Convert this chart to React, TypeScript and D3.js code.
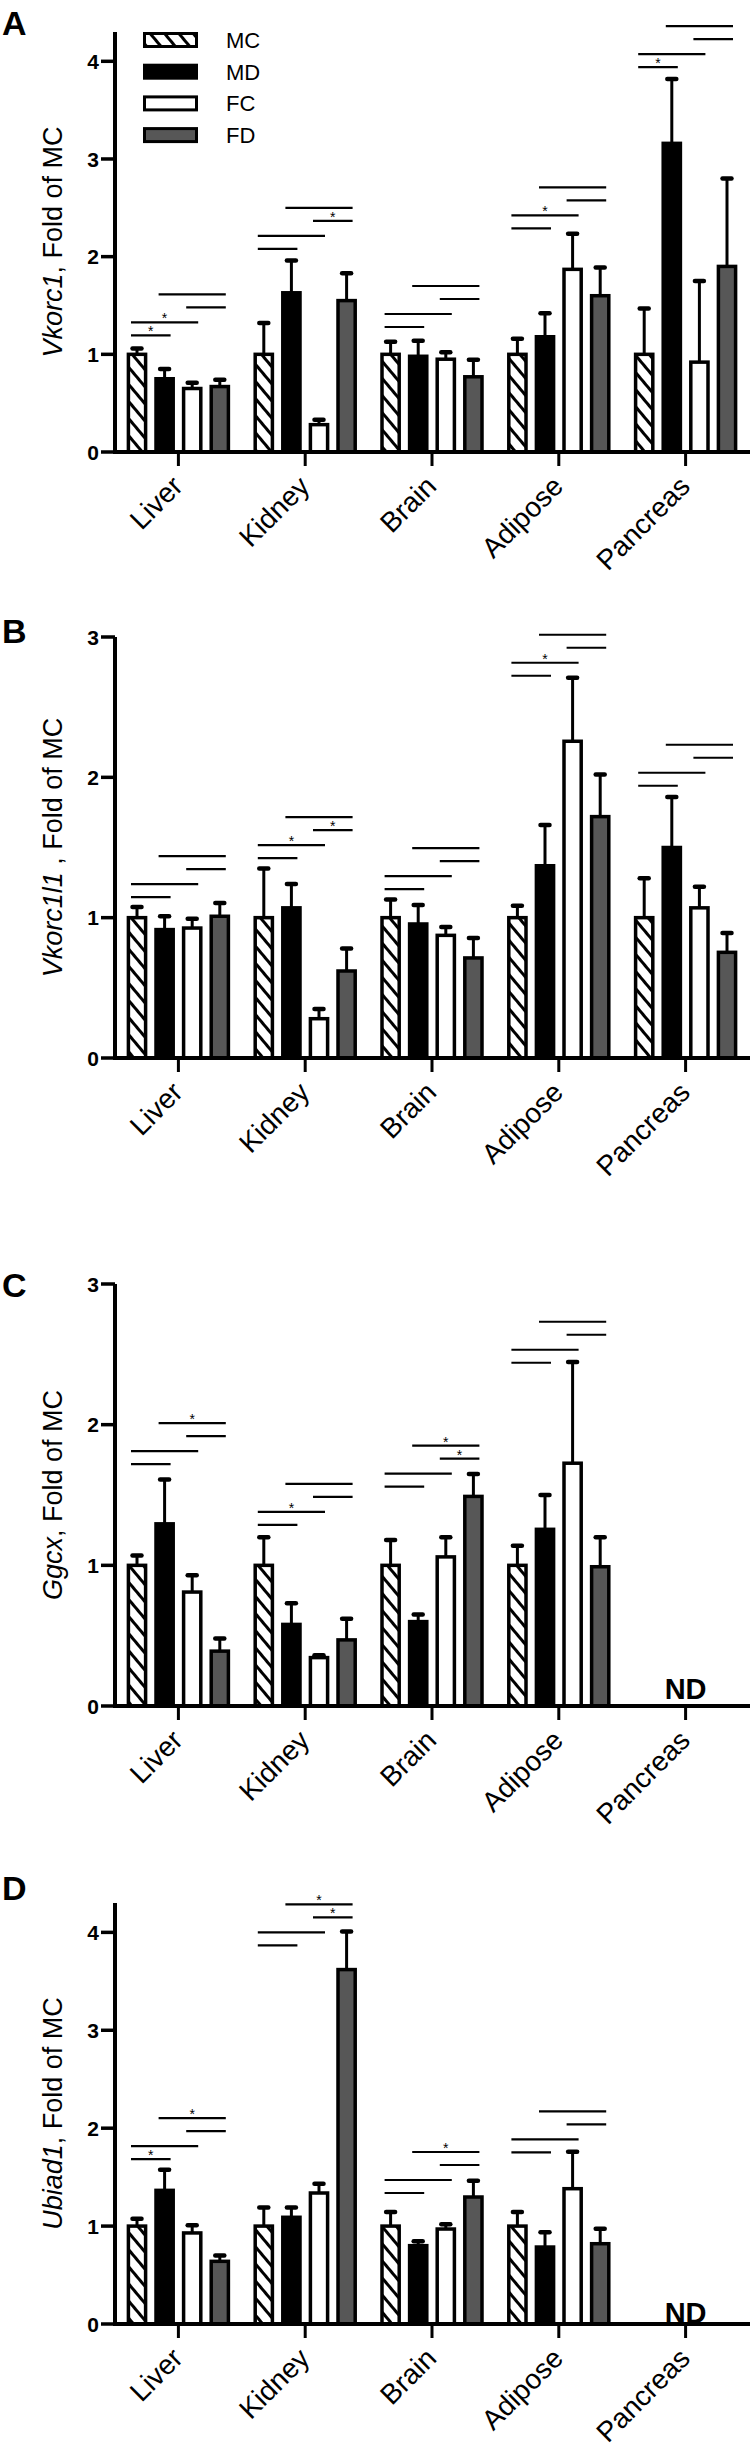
import React from 'react';
import * as d3 from 'd3';

const categories = ['Liver', 'Kidney', 'Brain', 'Adipose', 'Pancreas'];
const groups = ['MC', 'MD', 'FC', 'FD'];

// comparisons drawn above each tissue: [from group, to group]
const sigPairs = [[0, 1], [0, 2], [2, 3], [1, 3]];

// ---- Panel A: Vkorc1 ----
const vkorc1Mean = [
  [1.0, 0.75, 0.65, 0.67],
  [1.0, 1.63, 0.28, 1.55],
  [1.0, 0.98, 0.95, 0.77],
  [1.0, 1.18, 1.87, 1.6],
  [1.0, 3.16, 0.92, 1.9],
];
const vkorc1Sem = [
  [0.06, 0.1, 0.06, 0.07],
  [0.32, 0.33, 0.05, 0.28],
  [0.13, 0.16, 0.07, 0.175],
  [0.16, 0.24, 0.365, 0.29],
  [0.47, 0.66, 0.83, 0.9],
];
const vkorc1SigBase = [1.195, 2.08, 1.28, 2.29, 3.94];
const vkorc1Stars = [[1, 1, 0, 0], [0, 0, 1, 0], [0, 0, 0, 0], [0, 1, 0, 0], [1, 0, 0, 0]];
const vkorc1Ticks = [0, 1, 2, 3, 4];

// ---- Panel B: Vkorc1l1 ----
const vkorc1l1Mean = [
  [1.0, 0.915, 0.926, 1.01],
  [1.0, 1.07, 0.28, 0.62],
  [1.0, 0.955, 0.874, 0.713],
  [1.0, 1.37, 2.257, 1.72],
  [1.0, 1.5, 1.07, 0.753],
];
const vkorc1l1Sem = [
  [0.076, 0.095, 0.067, 0.095],
  [0.35, 0.17, 0.07, 0.16],
  [0.13, 0.135, 0.06, 0.142],
  [0.085, 0.29, 0.453, 0.3],
  [0.28, 0.36, 0.15, 0.137],
];
const vkorc1l1SigBase = [1.147, 1.425, 1.204, 2.724, 1.94];
const vkorc1l1Stars = [[0, 0, 0, 0], [0, 1, 1, 0], [0, 0, 0, 0], [0, 1, 0, 0], [0, 0, 0, 0]];
const vkorc1l1Ticks = [0, 1, 2, 3];

// ---- Panel C: Ggcx ----
const ggcxMean = [
  [1.0, 1.295, 0.81, 0.39],
  [1.0, 0.58, 0.344, 0.47],
  [1.0, 0.6, 1.06, 1.49],
  [1.0, 1.256, 1.726, 0.99],
  null,
];
const ggcxSem = [
  [0.07, 0.315, 0.12, 0.09],
  [0.2, 0.15, 0.016, 0.15],
  [0.18, 0.05, 0.14, 0.16],
  [0.14, 0.244, 0.72, 0.21],
  null,
];
const ggcxSigBase = [1.72, 1.287, 1.56, 2.44, null];
const ggcxStars = [[0, 0, 0, 1], [0, 1, 0, 0], [0, 0, 1, 1], [0, 0, 0, 0], null];
const ggcxTicks = [0, 1, 2, 3];

// ---- Panel D: Ubiad1 ----
const ubiad1Mean = [
  [1.0, 1.365, 0.93, 0.64],
  [1.0, 1.09, 1.338, 3.62],
  [1.0, 0.8, 0.97, 1.297],
  [1.0, 0.786, 1.382, 0.82],
  null,
];
const ubiad1Sem = [
  [0.076, 0.211, 0.078, 0.06],
  [0.19, 0.1, 0.095, 0.39],
  [0.143, 0.044, 0.05, 0.167],
  [0.143, 0.15, 0.378, 0.154],
  null,
];
const ubiad1SigBase = [1.685, 3.867, 1.338, 1.753, null];
const ubiad1Stars = [[1, 0, 0, 1], [0, 0, 1, 1], [0, 0, 0, 1], [0, 0, 0, 0], null];
const ubiad1Ticks = [0, 1, 2, 3, 4];

const FONT = "'Liberation Sans', Arial, Helvetica, sans-serif";
const fills: Record<string, string> = { MC: 'url(#hatchMC)', MD: '#000000', FC: '#ffffff', FD: '#575757' };

const panels = [
  { letter: 'A', gene: 'Vkorc1', suffix: ', Fold of MC', mean: vkorc1Mean, sem: vkorc1Sem, sig: vkorc1SigBase, stars: vkorc1Stars, ticks: vkorc1Ticks, yMax: 4.3, top: 32, bottom: 452, letterY: 35, legend: true, ndDy: 0 },
  { letter: 'B', gene: 'Vkorc1l1', suffix: ' , Fold of MC', mean: vkorc1l1Mean, sem: vkorc1l1Sem, sig: vkorc1l1SigBase, stars: vkorc1l1Stars, ticks: vkorc1l1Ticks, yMax: 3, top: 637, bottom: 1058, letterY: 643, legend: false, ndDy: 0 },
  { letter: 'C', gene: 'Ggcx', suffix: ', Fold of MC', mean: ggcxMean, sem: ggcxSem, sig: ggcxSigBase, stars: ggcxStars, ticks: ggcxTicks, yMax: 3, top: 1284, bottom: 1706, letterY: 1297, legend: false, ndDy: -7 },
  { letter: 'D', gene: 'Ubiad1', suffix: ', Fold of MC', mean: ubiad1Mean, sem: ubiad1Sem, sig: ubiad1SigBase, stars: ubiad1Stars, ticks: ubiad1Ticks, yMax: 4.3, top: 1903, bottom: 2324, letterY: 1900, legend: false, ndDy: -1 },
];

const AXIS_X = 115;
const xScale = d3.scaleBand<string>().domain(categories).range([AXIS_X, 749]).paddingInner(0).paddingOuter(0);
const subScale = d3.scaleBand<string>().domain(groups).range([0, 110.4]).paddingInner(0.25).paddingOuter(0.125);
const lineOffsets = [0, 13, 28, 41];
const BAR_SW = 3.5;

function Panel({ p }: { p: (typeof panels)[number] }) {
  const y = d3.scaleLinear().domain([0, p.yMax]).range([p.bottom, p.top]);
  const y0 = y(0);
  const bw = subScale.bandwidth();
  const mid = (p.top + p.bottom) / 2;
  return (
    <g>
      <text x={2} y={p.letterY} fontFamily={FONT} fontWeight="bold" fontSize={34}>{p.letter}</text>
      {/* y title */}
      <text transform={`translate(62, ${mid}) rotate(-90)`} textAnchor="middle" fontFamily={FONT} fontSize={27}>
        <tspan fontStyle="italic">{p.gene}</tspan>
        <tspan>{p.suffix}</tspan>
      </text>
      {/* bars */}
      {categories.map((c, ci) => {
        const m = p.mean[ci];
        const s = p.sem[ci];
        const center = (xScale(c) as number) + xScale.bandwidth() / 2;
        const start = center - 55.2;
        if (!m || !s) {
          return (
            <text key={c} x={center} y={y0 + p.ndDy} textAnchor="middle" fontFamily={FONT} fontWeight="bold" fontSize={29}>ND</text>
          );
        }
        const cx = (gi: number) => start + (subScale(groups[gi]) as number) + bw / 2;
        const base = p.sig[ci] as number;
        const st = p.stars[ci] as number[];
        return (
          <g key={c}>
            {groups.map((g, gi) => {
              const x0 = start + (subScale(g) as number);
              const top = y(m[gi]);
              const et = y(m[gi] + s[gi]);
              const xc = x0 + bw / 2;
              return (
                <g key={g}>
                  <line x1={xc} x2={xc} y1={top} y2={et} stroke="#000" strokeWidth={3} />
                  <line x1={xc - 4.5} x2={xc + 4.5} y1={et} y2={et} stroke="#000" strokeWidth={4.5} strokeLinecap="round" />
                  <rect x={x0 + BAR_SW / 2} y={top} width={bw - BAR_SW} height={y0 - top} fill={fills[g]} stroke="#000" strokeWidth={BAR_SW} />
                </g>
              );
            })}
            {sigPairs.map(([a, b], li) => {
              const ly = y(base) - lineOffsets[li];
              const x1 = cx(a) - 6;
              const x2 = cx(b) + 6;
              return (
                <g key={li}>
                  <line x1={x1} x2={x2} y1={ly} y2={ly} stroke="#000" strokeWidth={2.2} />
                  {st[li] ? (
                    <text x={(x1 + x2) / 2} y={ly + 1} textAnchor="middle" fontFamily={FONT} fontSize={14}>*</text>
                  ) : null}
                </g>
              );
            })}
          </g>
        );
      })}
      {/* axes */}
      <line x1={AXIS_X} x2={AXIS_X} y1={p.top} y2={y0 + 2} stroke="#000" strokeWidth={4} />
      {p.ticks.map((t) => (
        <g key={t}>
          <line x1={AXIS_X - 14} x2={AXIS_X} y1={y(t)} y2={y(t)} stroke="#000" strokeWidth={3.5} />
          <text x={99} y={y(t)} dy="0.36em" textAnchor="end" fontFamily={FONT} fontWeight="bold" fontSize={21}>{t}</text>
        </g>
      ))}
      <line x1={AXIS_X - 2} x2={750} y1={y0} y2={y0} stroke="#000" strokeWidth={4} />
      {categories.map((c) => {
        const tx = (xScale(c) as number) + xScale.bandwidth() / 2;
        return (
          <g key={c}>
            <line x1={tx} x2={tx} y1={y0} y2={y0 + 14} stroke="#000" strokeWidth={3} />
            <text transform={`translate(${tx + 6}, ${y0 + 36}) rotate(-45)`} textAnchor="end" fontFamily={FONT} fontSize={28}>{c}</text>
          </g>
        );
      })}
      {p.legend ? (
        <g>
          {groups.map((g, gi) => {
            const ly = 40 + gi * 31.7;
            return (
              <g key={g}>
                <rect x={144.5} y={ly - 6.5} width={52} height={13} fill={fills[g]} stroke="#000" strokeWidth={3} />
                <text x={226} y={ly} dy="0.36em" fontFamily={FONT} fontSize={22}>{g}</text>
              </g>
            );
          })}
        </g>
      ) : null}
    </g>
  );
}

export default function App() {
  return (
    <div style={{ position: 'absolute', left: 0, top: 0 }}>
      <svg width={750} height={2454} viewBox="0 0 750 2454" style={{ display: 'block', background: '#fff' }}>
        <defs>
          <pattern id="hatchMC" patternUnits="userSpaceOnUse" width={11} height={11} patternTransform="rotate(-40)">
            <rect width={11} height={11} fill="#fff" />
            <line x1={5.5} x2={5.5} y1={0} y2={11} stroke="#000" strokeWidth={3} />
          </pattern>
        </defs>
        <rect width={750} height={2454} fill="#fff" />
        {panels.map((p) => (
          <Panel key={p.letter} p={p} />
        ))}
      </svg>
    </div>
  );
}
